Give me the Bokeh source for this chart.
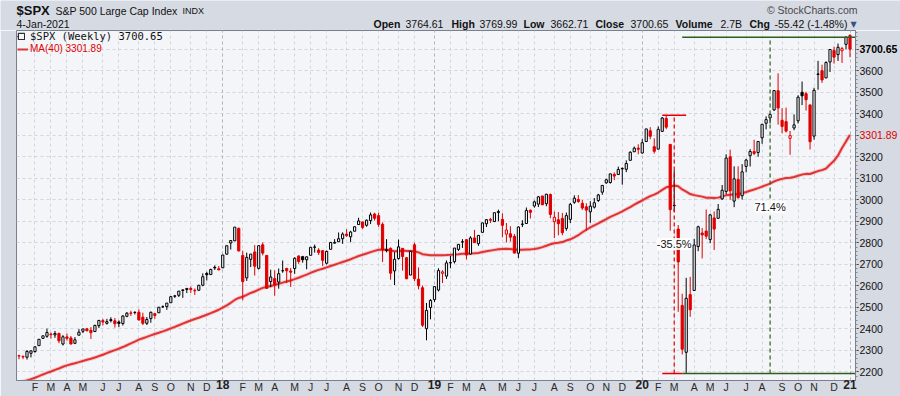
import numpy as np
import pandas as pd
from bokeh.plotting import figure
from bokeh.layouts import column
from bokeh.models import (ColumnDataSource, Range1d, FixedTicker, Label, Legend,
                          LegendItem, Grid, LinearAxis)
from bokeh.core.properties import value
from bokeh.embed import file_html
from bokeh.resources import INLINE

# ---------------- data ----------------
first_week = "2017-01-09"

opens = [
    2273.6, 2269.1, 2267.8, 2286.0, 2294.3, 2321.7, 2355.7, 2365.2, 2375.2, 2371.6,
    2378.2, 2329.1, 2362.3, 2357.2, 2332.6, 2370.3, 2388.5, 2399.9, 2393.0, 2387.2,
    2414.5, 2437.9, 2425.4, 2442.6, 2437.0, 2431.4, 2424.5, 2458.2, 2473.8, 2475.9,
    2477.1, 2454.0, 2425.5, 2447.4, 2470.4, 2474.5, 2502.5, 2503.3, 2521.2, 2551.4,
    2555.6, 2578.1, 2582.6, 2587.5, 2576.5, 2579.5, 2602.7, 2657.2, 2652.2, 2685.9,
    2679.1,
    2683.7, 2747.0, 2798.96, 2809.2, 2867.2, 2741.1, 2636.8, 2722.99, 2757.4, 2681.1,
    2790.5, 2741.4, 2619.4, 2633.5, 2617.2, 2670.1, 2680.8, 2668.7, 2680.3, 2738.3,
    2735.4, 2720.98, 2741.7, 2780.2, 2765.8, 2763.4, 2704.95, 2769.8, 2798.4, 2804.6,
    2819.0, 2840.3, 2827.9, 2853.9, 2884.7, 2896.96, 2881.4, 2903.8, 2933.8, 2926.3,
    2886.0, 2763.8, 2773.9, 2669.3, 2726.4, 2773.9, 2730.7, 2649.97, 2790.5, 2630.9,
    2590.8, 2400.6, 2498.9,
    2535.6, 2580.3, 2657.9, 2644.9, 2706.5, 2712.4, 2769.3, 2804.4, 2814.4, 2747.6,
    2822.6, 2796.0, 2848.6, 2888.5, 2908.4, 2898.8, 2940.6, 2908.9, 2840.2, 2841.9,
    2830.0, 2751.5, 2885.8, 2889.8, 2951.4, 2971.4, 2979.8, 3017.8, 2981.9, 3024.5,
    2898.1, 2907.1, 2913.5, 2866.7, 2909.0, 2988.4, 3001.5, 2983.5, 2967.1, 2944.2,
    2965.8, 2996.5, 3035.4, 3078.96, 3080.3, 3117.9, 3117.4, 3143.9, 3141.9, 3183.6,
    3223.3, 3240.1,
    3217.6, 3271.1, 3321.0, 3247.2, 3235.7, 3318.3, 3378.1, 3257.6, 2974.3, 2863.9,
    2508.6, 2290.7, 2558.98, 2578.3, 2782.5, 2845.6, 2854.7, 2815.0, 2915.5, 2913.9,
    3004.1, 3038.8, 3199.9, 2993.8, 3094.4, 3018.6, 3155.3, 3205.1, 3224.3, 3219.8,
    3288.3, 3356.0, 3380.9, 3418.1, 3507.4, 3369.8, 3363.6, 3285.6, 3333.9, 3367.3,
    3500.0, 3493.5, 3441.4, 3296.2, 3583.0, 3600.2, 3566.8, 3641.0, 3694.7, 3675.3,
    3693.4, 3723.0, 3764.61,
]

highs = [
    2279.3, 2276.1, 2301.0, 2299.0, 2319.2, 2351.3, 2367.3, 2401.0, 2382.9, 2390.0,
    2382.4, 2370.4, 2378.4, 2366.4, 2361.4, 2398.2, 2399.3, 2403.9, 2407.7, 2418.7,
    2440.2, 2446.2, 2446.2, 2453.8, 2450.4, 2439.2, 2463.5, 2477.6, 2484.0, 2480.4,
    2490.9, 2474.9, 2454.8, 2480.4, 2471.8, 2500.2, 2508.9, 2519.4, 2552.5, 2557.6,
    2575.4, 2583.0, 2588.4, 2597.0, 2587.7, 2604.2, 2657.7, 2665.2, 2679.6, 2695.0,
    2692.1,
    2743.5, 2787.9, 2810.3, 2872.9, 2870.6, 2763.4, 2754.4, 2747.8, 2789.2, 2786.6,
    2801.9, 2741.4, 2674.8, 2672.1, 2680.3, 2717.5, 2683.6, 2682.9, 2732.9, 2742.2,
    2739.2, 2736.9, 2779.9, 2791.5, 2775.0, 2764.2, 2764.4, 2804.5, 2816.8, 2848.0,
    2848.6, 2863.4, 2855.6, 2876.2, 2916.5, 2898.4, 2908.3, 2940.9, 2939.9, 2939.9,
    2894.8, 2816.9, 2778.9, 2756.6, 2815.2, 2776.0, 2733.2, 2760.9, 2800.2, 2685.4,
    2601.1, 2520.3, 2538.1,
    2597.8, 2681.4, 2672.4, 2718.0, 2739.0, 2775.7, 2794.2, 2816.9, 2816.9, 2830.7,
    2860.3, 2836.0, 2893.4, 2910.5, 2916.1, 2939.9, 2954.1, 2937.3, 2892.2, 2876.8,
    2841.4, 2876.7, 2905.0, 2964.2, 2954.9, 2996.8, 3017.8, 3017.8, 3028.0, 3029.3,
    2945.5, 2943.3, 2939.1, 2940.4, 2985.9, 3021.0, 3022.0, 2999.2, 2983.9, 2993.3,
    3008.3, 3027.4, 3066.9, 3097.8, 3120.5, 3127.6, 3154.3, 3150.6, 3183.6, 3225.6,
    3247.9, 3258.1,
    3282.0, 3329.9, 3337.8, 3285.9, 3341.4, 3385.1, 3393.52, 3259.8, 3136.7, 2882.6,
    2563.0, 2637.0, 2641.4, 2818.6, 2879.2, 2869.0, 2954.9, 2935.0, 2945.8, 2980.3,
    3068.7, 3211.7, 3233.1, 3155.5, 3155.5, 3165.8, 3190.8, 3235.3, 3279.3, 3272.2,
    3352.5, 3387.9, 3400.0, 3509.4, 3588.1, 3425.6, 3428.9, 3320.3, 3397.2, 3486.3,
    3549.9, 3502.4, 3441.4, 3521.0, 3646.0, 3628.5, 3644.3, 3699.1, 3712.4, 3726.7,
    3711.2, 3760.2, 3769.99,
]

lows = [
    2258.2, 2258.8, 2257.0, 2267.2, 2288.5, 2321.7, 2352.9, 2358.2, 2354.0, 2358.0,
    2333.0, 2322.3, 2344.7, 2328.3, 2328.9, 2370.3, 2379.8, 2387.9, 2352.7, 2386.8,
    2403.6, 2415.7, 2419.4, 2429.6, 2405.7, 2407.7, 2415.2, 2453.9, 2459.9, 2466.5,
    2437.8, 2417.4, 2417.4, 2428.2, 2446.6, 2474.5, 2496.7, 2488.0, 2521.2, 2543.8,
    2547.9, 2544.0, 2566.2, 2566.3, 2557.4, 2575.6, 2598.0, 2624.8, 2651.1, 2673.6,
    2673.3,
    2682.4, 2745.6, 2768.6, 2808.1, 2760.0, 2532.7, 2622.5, 2687.0, 2647.3, 2675.8,
    2741.4, 2585.9, 2593.1, 2553.8, 2586.5, 2660.8, 2612.7, 2594.6, 2655.2, 2701.9,
    2707.4, 2676.8, 2741.7, 2754.4, 2743.2, 2692.0, 2699.0, 2769.8, 2796.3, 2804.6,
    2795.1, 2827.2, 2802.5, 2853.0, 2884.7, 2864.1, 2874.7, 2886.9, 2903.3, 2874.0,
    2710.5, 2755.5, 2628.2, 2603.5, 2722.0, 2670.8, 2631.1, 2649.97, 2621.5, 2583.2,
    2408.6, 2346.6, 2444.0,
    2524.6, 2573.7, 2612.9, 2631.9, 2681.8, 2703.8, 2761.9, 2775.9, 2722.3, 2746.0,
    2800.7, 2785.7, 2848.6, 2873.3, 2891.9, 2896.4, 2900.5, 2825.4, 2801.4, 2805.5,
    2750.5, 2728.8, 2873.1, 2887.3, 2913.0, 2963.4, 2966.4, 2975.9, 2969.9, 2914.1,
    2822.1, 2835.0, 2835.0, 2856.0, 2891.9, 2981.0, 2985.8, 2952.9, 2856.0, 2893.0,
    2959.4, 2990.1, 3023.2, 3074.6, 3075.3, 3091.4, 3117.4, 3070.3, 3128.6, 3183.6,
    3223.3, 3212.0,
    3214.6, 3268.4, 3281.5, 3214.7, 3235.7, 3315.8, 3328.5, 2855.8, 2945.2, 2478.9,
    2280.5, 2191.86, 2455.8, 2578.3, 2761.0, 2727.1, 2816.8, 2797.9, 2766.6, 2913.9,
    2999.5, 3025.8, 2999.5, 2965.7, 3007.4, 3000.9, 3127.7, 3154.9, 3207.9, 3200.0,
    3260.5, 3327.8, 3354.7, 3413.1, 3349.6, 3310.0, 3313.1, 3209.5, 3323.7, 3354.5,
    3440.5, 3415.1, 3233.9, 3279.7, 3511.9, 3543.8, 3566.8, 3594.4, 3633.4, 3645.8,
    3636.5, 3700.3, 3662.71,
]

closes = [
    2274.6, 2271.3, 2294.7, 2297.4, 2316.1, 2351.2, 2367.3, 2383.1, 2372.6, 2378.3,
    2344.0, 2362.7, 2355.5, 2329.0, 2348.7, 2384.2, 2399.3, 2390.9, 2381.7, 2415.8,
    2439.1, 2431.8, 2433.2, 2438.3, 2423.4, 2425.2, 2459.3, 2472.5, 2472.1, 2476.8,
    2441.3, 2425.6, 2443.1, 2476.6, 2461.4, 2500.2, 2502.2, 2519.4, 2549.3, 2553.2,
    2575.2, 2581.1, 2587.8, 2582.3, 2578.9, 2602.4, 2642.2, 2651.5, 2675.8, 2683.3,
    2673.6,
    2743.2, 2786.2, 2810.3, 2872.9, 2762.1, 2619.6, 2732.2, 2747.3, 2691.3, 2786.6,
    2752.0, 2588.3, 2640.9, 2604.5, 2656.3, 2670.1, 2669.9, 2663.4, 2727.7, 2713.0,
    2721.3, 2734.6, 2779.0, 2779.7, 2754.9, 2718.4, 2759.8, 2801.3, 2801.8, 2818.8,
    2840.4, 2833.3, 2850.1, 2874.7, 2901.5, 2871.7, 2905.0, 2929.7, 2914.0, 2885.6,
    2767.1, 2767.8, 2658.7, 2723.1, 2781.0, 2736.3, 2632.6, 2760.2, 2633.1, 2600.0,
    2416.6, 2485.7, 2531.9,
    2596.3, 2670.7, 2664.8, 2706.5, 2707.9, 2775.6, 2792.7, 2803.7, 2743.1, 2822.5,
    2800.7, 2834.4, 2892.7, 2907.4, 2905.0, 2939.9, 2945.6, 2881.4, 2859.5, 2826.1,
    2752.1, 2873.3, 2887.0, 2950.5, 2941.8, 2990.4, 3013.8, 2976.6, 3025.9, 2932.1,
    2918.7, 2888.7, 2847.1, 2926.5, 2978.7, 3007.4, 2992.1, 2961.8, 2952.0, 2970.3,
    2986.2, 3022.6, 3066.9, 3093.1, 3120.5, 3110.3, 3141.0, 3145.9, 3168.8, 3221.2,
    3240.0, 3234.9,
    3265.4, 3329.6, 3295.5, 3225.5, 3327.7, 3380.2, 3337.8, 2954.2, 2972.4, 2711.0,
    2304.9, 2541.5, 2488.7, 2789.8, 2874.6, 2836.7, 2830.7, 2929.8, 2863.7, 2955.5,
    3044.3, 3193.9, 3041.3, 3097.7, 3009.1, 3130.0, 3185.0, 3224.7, 3215.6, 3271.1,
    3351.3, 3372.9, 3397.2, 3508.0, 3427.0, 3341.0, 3319.5, 3298.5, 3348.4, 3477.1,
    3483.8, 3465.4, 3270.0, 3509.4, 3585.2, 3557.5, 3638.4, 3699.1, 3663.5, 3709.4,
    3703.1, 3756.1, 3700.65,
]

# weekly closes of the 39 weeks before the first bar (needed for the 40-week average)
closes_before = [
    2080.7, 2091.6, 2065.3, 2057.1, 2046.6, 2052.3, 2099.1, 2099.1, 2096.1, 2071.2,
    2037.4, 2103.0, 2129.9, 2161.7, 2175.0, 2173.6, 2182.9, 2184.1, 2183.9, 2169.0,
    2180.0, 2127.8, 2139.2, 2164.7, 2168.3, 2153.7, 2133.0, 2141.2, 2126.4, 2085.2,
    2164.5, 2181.9, 2213.4, 2192.0, 2259.5, 2258.1, 2263.8, 2238.8, 2277.0,
]

price_levels = [2200, 2300, 2400, 2500, 2600, 2700, 2800, 2900, 3000, 3100, 3200,
                3300, 3400, 3500, 3600, 3700]
price_labels = ["2200", "2300", "2400", "2500", "2600", "2700", "2800", "2900", "3000",
                "3100", "3200", "", "3400", "3500", "3600", ""]
last_close_tag = 3700.65
ma_tag = 3301.89
month_letters = ["J", "F", "M", "A", "M", "J", "J", "A", "S", "O", "N", "D"]

# measured swing (crash and rebound) annotations
swing_weeks = [164, 188]
swing_texts = ["-35.5%", "71.4%"]
swing_text_levels = [2794, 2967]
peak_span = [161, 167]
trough_red_span = [161, 166]
rebound_span = [166, 210]

# ---------------- derived ----------------
n = len(closes)
dates = pd.date_range(first_week, periods=n, freq="W-MON")
idx = np.arange(n)
o = np.array(opens); h = np.array(highs); l = np.array(lows); c = np.array(closes)
prev = np.array([closes_before[-1]] + closes[:-1])
all_c = np.array(closes_before + closes)
ma40 = np.array([all_c[i:i + 40].mean() for i in range(n)])

RED = "#E00000"
GREEN = "#2E5E1E"
BG = "#F4F5F9"
EDGE = "#D6DAE3"
FONT = "Liberation Sans"

line_col = np.where(c >= prev, "black", RED)
fill_col = np.where(c >= o, BG, line_col)

src = ColumnDataSource(dict(x=idx, o=o, h=h, l=l, c=c,
                            top=np.maximum(o, c), bot=np.minimum(o, c),
                            line=line_col, fill=fill_col, ma=ma40))

# ---------------- header strip ----------------
hdr = figure(width=900, height=30, x_range=Range1d(0, 900), y_range=Range1d(30, 0),
             x_axis_type=None, y_axis_type=None, toolbar_location=None,
             output_backend="svg", min_border=0)
hdr.frame_align = False
hdr.outline_line_color = None
hdr.background_fill_color = EDGE
hdr.border_fill_color = EDGE
hdr.xgrid.visible = False
hdr.ygrid.visible = False


def head(x, y, text, size="11px", bold=False, color="#111111", align="left", font=FONT):
    hdr.add_layout(Label(x=x, y=y, text=text, text_font=font, text_font_size=size,
                         text_font_style="bold" if bold else "normal",
                         text_color=color, text_align=align, text_baseline="middle"))


head(16, 10, "$SPX", "13px", True)
head(55, 10, "S&P 500 Large Cap Index", "10.5px")
head(182, 10.5, "INDX", "9px")
head(857, 9, "© StockCharts.com", "10.5px", color="#4A4A4A", align="right")
head(16, 23, "4-Jan-2021", "10.5px")
for x, t, b in [(373, "Open", True), (405, "3764.61", False),
                (451, "High", True), (479, "3769.99", False),
                (523, "Low", True), (550, "3662.71", False),
                (595, "Close", True), (630, "3700.65", False),
                (675, "Volume", True), (720, "2.7B", False),
                (749, "Chg", True), (774, "-55.42 (-1.48%)", False)]:
    head(x, 23, t, "10.5px", b)
head(853, 23.5, "▼", "8px", color="#3B5280", align="center", font="DejaVu Sans")

# ---------------- main chart ----------------
p = figure(width=900, height=366, output_backend="svg", toolbar_location=None,
           x_range=Range1d(-0.625, 209.375), y_range=Range1d(2159.5, 3787.4),
           y_axis_location="right",
           min_border_left=16, min_border_right=44, min_border_top=0, min_border_bottom=16)
p.frame_align = False
p.background_fill_color = BG
p.border_fill_color = EDGE
p.outline_line_color = "#7A7F8E"

tick_idx = [i for i in range(1, n) if dates[i].month != dates[i - 1].month]
year_idx = [i for i in tick_idx if dates[i].month == 1]
p.xaxis.ticker = FixedTicker(ticks=tick_idx)
p.xaxis.major_label_overrides = {i: ("" if dates[i].month == 1
                                     else month_letters[dates[i].month - 1]) for i in tick_idx}
p.xaxis.major_tick_out = 0
p.xaxis.major_tick_in = 0
p.xaxis.minor_tick_line_color = None
p.xaxis.major_label_standoff = 0
p.xaxis.major_label_text_font = FONT
p.xaxis.major_label_text_font_size = "10.5px"
p.xaxis.major_label_text_color = "#2A2A2A"
p.xaxis.axis_line_color = "#7A7F8E"

# bold year labels on a second bottom axis pulled up onto the month row
year_axis = LinearAxis(ticker=FixedTicker(ticks=year_idx),
                       major_label_overrides={i: f"{dates[i].year % 100:02d}" for i in year_idx},
                       major_tick_out=0, major_tick_in=0, minor_tick_line_color=None,
                       axis_line_color=None, major_label_standoff=-16,
                       major_label_text_font=FONT, major_label_text_font_size="12px",
                       major_label_text_font_style="bold", major_label_text_color="#222222")
p.add_layout(year_axis, "below")

p.yaxis.ticker = FixedTicker(ticks=price_levels, minor_ticks=list(range(2180, 3790, 20)))
p.yaxis.major_label_overrides = dict(zip(price_levels, price_labels))
p.yaxis.major_tick_out = 3
p.yaxis.major_tick_in = 0
p.yaxis.minor_tick_out = 2
p.yaxis.minor_tick_in = 0
p.yaxis.minor_tick_line_color = "#8A8A8A"
p.yaxis.major_label_standoff = 1
p.yaxis.major_label_text_font = FONT
p.yaxis.major_label_text_font_size = "10.5px"
p.yaxis.major_label_text_color = "#111111"
p.yaxis.axis_line_color = "#7A7F8E"

# last-value tags: extra right axes pulled back onto the price-label column
close_axis = LinearAxis(ticker=FixedTicker(ticks=[last_close_tag]),
                        major_label_overrides={last_close_tag: f"{last_close_tag:.2f}"},
                        major_tick_out=0, major_tick_in=0, minor_tick_line_color=None,
                        axis_line_color=None, major_label_standoff=-26,
                        major_label_text_font=FONT, major_label_text_font_size="10.5px",
                        major_label_text_font_style="bold", major_label_text_color="black")
ma_axis = LinearAxis(ticker=FixedTicker(ticks=[ma_tag]),
                     major_label_overrides={ma_tag: f"{ma_tag:.2f}"},
                     major_tick_out=0, major_tick_in=0, minor_tick_line_color=None,
                     axis_line_color=None, major_label_standoff=-41,
                     major_label_text_font=FONT, major_label_text_font_size="10.5px",
                     major_label_text_color=RED)
p.add_layout(close_axis, "right")
p.add_layout(ma_axis, "right")

p.xgrid.grid_line_color = "#D3D5DC"
p.xgrid.grid_line_dash = "3 3"
p.ygrid.grid_line_color = "#D3D5DC"
p.ygrid.grid_line_dash = "3 3"
p.add_layout(Grid(dimension=0, ticker=FixedTicker(ticks=year_idx),
                  grid_line_color="#B3B6BE", grid_line_dash="3 3"))

# moving average
p.line("x", "ma", source=src, line_color=RED, line_width=4, line_alpha=0.15)
ma_r = p.line("x", "ma", source=src, line_color="#E02020", line_width=2, line_alpha=0.9)

# candles
wick_r = p.segment(x0="x", y0="l", x1="x", y1="h", source=src, line_color="line", line_width=1)
body_r = p.vbar(x="x", width=0.55, top="top", bottom="bot", source=src,
                fill_color="fill", line_color="line", line_width=1)

# swing measurement lines
peak = max(highs[150:166])
trough = min(lows)
rebound = max(closes[166:])
p.line(peak_span, [peak, peak], line_color=RED, line_width=1.5)
p.line(trough_red_span, [trough, trough], line_color=RED, line_width=1.5)
p.line(rebound_span, [trough, trough], line_color=GREEN, line_width=1.5)
p.line(rebound_span, [rebound, rebound], line_color=GREEN, line_width=1.5)
p.line([swing_weeks[0]] * 2, [trough, peak], line_color=RED, line_width=1.2, line_dash="4 3")
p.line([swing_weeks[1]] * 2, [trough, rebound], line_color=GREEN, line_width=1.2, line_dash="4 3")
for wk, txt, lev in zip(swing_weeks, swing_texts, swing_text_levels):
    p.add_layout(Label(x=wk, y=lev, text=txt, text_font=FONT, text_font_size="11px",
                       text_align="center", text_baseline="middle", text_color="#111111",
                       background_fill_color="white", background_fill_alpha=0.9))

# legends
leg1 = Legend(items=[LegendItem(label=value("$SPX (Weekly) 3700.65"),
                                renderers=[wick_r, body_r], index=2)],
              location=(1, 338))
leg1.glyph_width = 8
leg1.glyph_height = 8
leg1.label_standoff = 5
leg1.label_text_font = "DejaVu Sans Mono"
leg1.label_text_font_size = "10.5px"
leg1.label_text_color = "#111111"

leg2 = Legend(items=[LegendItem(label=value("MA(40) 3301.89"), renderers=[ma_r])],
              location=(1, 326))
leg2.glyph_width = 11
leg2.glyph_height = 8
leg2.label_standoff = 2
leg2.label_text_font = FONT
leg2.label_text_font_size = "10px"
leg2.label_text_color = RED

for lg in (leg1, leg2):
    lg.border_line_alpha = 0
    lg.background_fill_alpha = 0
    lg.padding = 0
    lg.margin = 0
    lg.spacing = 0
    lg.label_height = 8
    p.add_layout(lg)

open("out.html", "w").write(file_html(column(hdr, p, spacing=0), INLINE))
